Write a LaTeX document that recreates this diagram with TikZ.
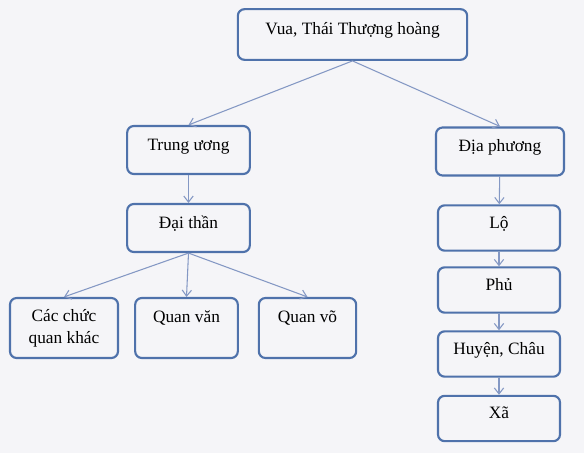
\documentclass[tikz,border=0pt]{standalone}
\usepackage{fontspec}
\setmainfont{Liberation Serif}
\usepackage{xcolor}
\usetikzlibrary{arrows.meta,positioning}
\definecolor{boxblue}{HTML}{4F72AB}
\definecolor{linkblue}{HTML}{8498C4}
\definecolor{paper}{HTML}{F5F5F8}
\tikzset{
  plainbox/.style={draw=boxblue,line width=1.6pt,rounded corners=5pt,fill=paper,
                  font=\fontsize{13}{16.5}\selectfont,inner sep=0pt},
  box/.style    ={plainbox,text height=8pt,text depth=8pt},
  topbox/.style ={box,minimum width=172pt,minimum height=38pt},
  midbox/.style ={box,minimum width=92pt,minimum height=36pt},
  colbox/.style ={box,minimum width=91.5pt,minimum height=34pt},
  lowbox/.style ={box,minimum height=45pt,text height=6pt,text depth=14pt},
  link/.style   ={-{Straight Barb[length=4.5pt,width=7pt]},linkblue,line width=0.8pt},
}
\begin{document}
\begin{tikzpicture}[x=0.75pt,y=-0.75pt]
  \fill[paper] (0,0) rectangle (584,453);
  \useasboundingbox (0,0) rectangle (584,453);
  % king on top, two branches below
  \node[topbox] (vua) at (352.5,34.5) {Vua, Thái Thượng hoàng};
  \node[midbox] (trunguong) at (188.5,150) {Trung ương};
  \node[midbox,minimum width=96pt] (diaphuong) at (500,151.5) {Địa phương};
  \draw[link] (vua.south) -- (trunguong.north);
  \draw[link] (vua.south) -- (diaphuong.north);
  % central court
  \node[midbox] (daithan) at (188.5,228) {Đại thần};
  \node[plainbox,minimum width=81pt,minimum height=45pt,align=center]
        (cacchuc) at (64,328) {Các chức\\quan khác};
  \node[lowbox,minimum width=77pt] (quanvan) at (186.5,328) {Quan văn};
  \node[lowbox,minimum width=73pt] (quanvo) at (307.5,328) {Quan võ};
  \draw[link] (trunguong) -- (daithan);
  \foreach \n in {cacchuc,quanvan,quanvo}
    \draw[link] (daithan.south) -- (\n.north);
  % local levels
  \node[colbox] (lo) at (499,228) {Lộ};
  \node[colbox] (phu) at (499,290) {Phủ};
  \node[colbox] (huyen) at (499,354) {Huyện, Châu};
  \node[colbox] (xa) at (499,418.5) {Xã};
  \foreach \a/\b in {diaphuong/lo,lo/phu,phu/huyen,huyen/xa}
    \draw[link] (\a) -- (\b);
\end{tikzpicture}
\end{document}
